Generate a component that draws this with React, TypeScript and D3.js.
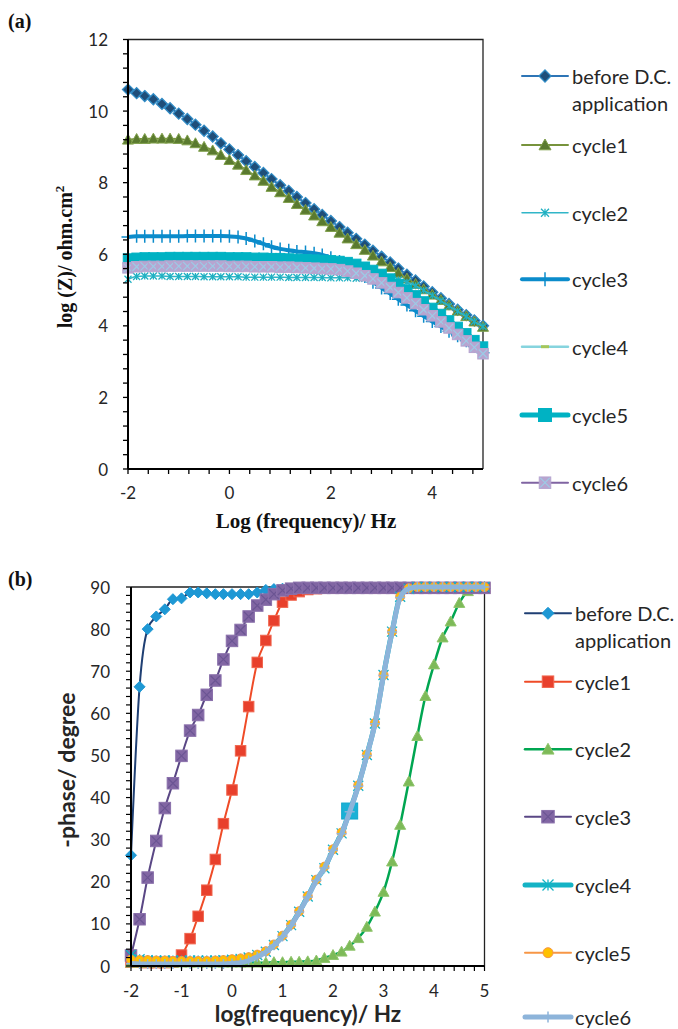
import React from 'react';
import * as d3 from 'd3';

// ---------- DATA ----------
const LOG_F = [-2, -1.83, -1.67, -1.5, -1.33, -1.17, -1, -0.83, -0.67, -0.5, -0.33, -0.17, 0, 0.17, 0.33, 0.5, 0.67, 0.83, 1, 1.17, 1.33, 1.5, 1.67, 1.83, 2, 2.17, 2.33, 2.5, 2.67, 2.83, 3, 3.17, 3.33, 3.5, 3.67, 3.83, 4, 4.17, 4.33, 4.5, 4.67, 4.83, 5];

const LEGEND_LABELS = ['before D.C. application', 'cycle1', 'cycle2', 'cycle3', 'cycle4', 'cycle5', 'cycle6'];

// (a) log |Z|
const Z_BEFORE = [10.6, 10.5, 10.42, 10.33, 10.2, 10.08, 9.93, 9.78, 9.62, 9.45, 9.29, 9.1, 8.93, 8.77, 8.6, 8.44, 8.27, 8.1, 7.93, 7.77, 7.6, 7.43, 7.26, 7.1, 6.93, 6.76, 6.6, 6.43, 6.27, 6.1, 5.93, 5.77, 5.6, 5.43, 5.27, 5.1, 4.94, 4.77, 4.61, 4.45, 4.3, 4.15, 4.0];
const Z_CYCLE1 = [9.2, 9.22, 9.22, 9.23, 9.23, 9.23, 9.22, 9.18, 9.1, 9.0, 8.9, 8.77, 8.63, 8.5, 8.35, 8.2, 8.05, 7.88, 7.73, 7.57, 7.4, 7.24, 7.08, 6.92, 6.76, 6.6, 6.44, 6.28, 6.12, 5.96, 5.8, 5.64, 5.48, 5.32, 5.17, 5.02, 4.87, 4.72, 4.57, 4.42, 4.27, 4.12, 3.97];
const Z_CYCLE2 = [5.3, 5.38, 5.39, 5.39, 5.39, 5.38, 5.38, 5.38, 5.38, 5.37, 5.37, 5.37, 5.37, 5.37, 5.36, 5.36, 5.36, 5.36, 5.36, 5.35, 5.35, 5.35, 5.35, 5.35, 5.34, 5.34, 5.34, 5.33, 5.33, 5.32, 5.31, 5.3, 5.28, 5.22, 5.12, 4.99, 4.85, 4.7, 4.55, 4.41, 4.26, 4.12, 3.98];
const Z_CYCLE3 = [6.48, 6.5, 6.5, 6.5, 6.5, 6.5, 6.5, 6.51, 6.51, 6.51, 6.51, 6.51, 6.5, 6.48, 6.44, 6.37, 6.29, 6.21, 6.15, 6.11, 6.08, 6.06, 6.03, 5.98, 5.9, 5.8, 5.68, 5.54, 5.38, 5.22, 5.06, 4.9, 4.74, 4.58, 4.42, 4.27, 4.12, 3.98, 3.85, 3.72, 3.58, 3.42, 3.25];
const Z_CYCLE4 = [5.72, 5.74, 5.74, 5.75, 5.75, 5.75, 5.75, 5.75, 5.75, 5.75, 5.75, 5.75, 5.75, 5.75, 5.74, 5.74, 5.74, 5.73, 5.73, 5.73, 5.72, 5.72, 5.71, 5.7, 5.69, 5.67, 5.64, 5.59, 5.52, 5.43, 5.32, 5.19, 5.05, 4.9, 4.74, 4.57, 4.4, 4.23, 4.05, 3.87, 3.69, 3.5, 3.32];
const Z_CYCLE5 = [5.88, 5.9, 5.91, 5.91, 5.91, 5.92, 5.92, 5.92, 5.92, 5.92, 5.92, 5.92, 5.91, 5.91, 5.91, 5.9, 5.9, 5.89, 5.89, 5.88, 5.87, 5.86, 5.85, 5.84, 5.83, 5.81, 5.78, 5.73, 5.65, 5.56, 5.45, 5.32, 5.17, 5.01, 4.85, 4.68, 4.5, 4.33, 4.15, 3.97, 3.79, 3.6, 3.42];
const Z_CYCLE6 = [5.62, 5.65, 5.66, 5.66, 5.66, 5.67, 5.67, 5.67, 5.67, 5.67, 5.67, 5.67, 5.66, 5.66, 5.66, 5.65, 5.65, 5.65, 5.64, 5.64, 5.63, 5.62, 5.61, 5.6, 5.59, 5.57, 5.53, 5.47, 5.4, 5.31, 5.2, 5.07, 4.93, 4.78, 4.62, 4.45, 4.28, 4.11, 3.94, 3.76, 3.58, 3.4, 3.22];

// (b) -phase
const PH_BEFORE = [26.3, 66.3, 80, 83, 84.7, 87.1, 87.3, 88.7, 88.7, 88.5, 88.3, 88.3, 88.3, 88.3, 88.3, 88.7, 89.3, 89.5, 89.6, 89.6, 89.6, 89.6, 89.7, 89.7, 89.7, 89.7, 89.7, 89.7, 89.7, 89.7, 89.7, 89.7, 89.7, 89.7, 89.7, 89.7, 89.7, 89.7, 89.7, 89.7, 89.7, 89.7, 89.7];
const PH_CYCLE1 = [0.9, 0.9, 0.8, 0.8, 0.8, 0.9, 2.6, 6.5, 11.8, 18, 25.3, 33.8, 41.8, 51.1, 61.6, 72.1, 77.3, 82, 86.4, 88.1, 88.9, 89.4, 89.6, 89.7, 89.7, 89.7, 89.7, 89.7, 89.7, 89.7, 89.7, 89.7, 89.7, 89.7, 89.7, 89.7, 89.7, 89.7, 89.7, 89.7, 89.7, 89.7, 89.7];
const PH_CYCLE2 = [0.8, 0.8, 0.8, 0.8, 0.8, 0.8, 0.8, 0.8, 0.8, 0.8, 0.8, 0.8, 0.8, 0.8, 0.8, 0.8, 0.8, 0.9, 0.9, 1.0, 1.0, 1.1, 1.3, 1.9, 2.6, 3.4, 4.8, 6.6, 9.3, 12.9, 17.6, 24.8, 33.5, 43.8, 54.6, 64.1, 71.6, 78, 81.8, 86.2, 89, 89.8, 90];
const PH_CYCLE3 = [2.5, 11.1, 21, 29.7, 37.5, 43.4, 49.9, 55.9, 59.6, 64.4, 67.8, 72.8, 77.2, 79.8, 83, 85.6, 87, 88.3, 89.2, 89.6, 89.8, 89.8, 89.8, 89.8, 89.8, 89.8, 89.8, 89.8, 89.8, 89.8, 89.8, 89.8, 89.8, 89.8, 89.8, 89.8, 89.8, 89.8, 89.8, 89.8, 89.8, 89.8, 89.8];
const PH_CYCLE4 = [2.6, 1.6, 1.4, 1.3, 1.3, 1.3, 1.3, 1.3, 1.3, 1.3, 1.3, 1.4, 1.5, 1.7, 2.0, 2.6, 3.4, 5.0, 7.1, 9.7, 12.9, 16.5, 20.4, 23.2, 27.6, 31.5, 36.7, 42.8, 50.1, 57.6, 69.1, 79.4, 87.7, 89.6, 90, 90, 90, 90, 90, 90, 90, 90, 90];
const PH_CYCLE5 = [1.5, 1.4, 1.4, 1.3, 1.3, 1.2, 1.2, 1.2, 1.2, 1.2, 1.3, 1.4, 1.6, 1.8, 2.1, 2.7, 3.5, 5.1, 7.2, 9.8, 13, 16.6, 20.5, 23.6, 27.7, 31.7, 36.8, 42.9, 50.2, 57.7, 69.1, 79.4, 87.7, 89.7, 90, 90, 90, 90, 90, 90, 90, 90, 90];
const PH_CYCLE6 = [0.6, 0.5, 0.5, 0.5, 0.5, 0.5, 0.5, 0.5, 0.5, 0.5, 0.5, 0.5, 0.6, 0.8, 1.3, 2.2, 3.3, 4.9, 7.0, 9.6, 12.8, 16.4, 20.3, 23.3, 27.5, 31.4, 36.6, 42.7, 50, 57.5, 69, 79.3, 87.5, 89.6, 90, 90, 90, 90, 90, 90, 90, 90, 90];
const PH_CYCLE5_HIGHLIGHT = 26; // index of the single highlighted point

const A_Y_TICKS = [0, 2, 4, 6, 8, 10, 12];
const A_X_TICKS = [-2, 0, 2, 4];
const B_Y_TICKS = [0, 10, 20, 30, 40, 50, 60, 70, 80, 90];
const B_X_TICKS = [-2, -1, 0, 1, 2, 3, 4, 5];

// ---------- STYLES ----------
type MarkerSpec = { shape: string; size: number; fill?: string; stroke?: string; sw?: number; inner?: string };
type SeriesSpec = { values: number[]; color: string; width: number; marker: MarkerSpec; legendMarker?: MarkerSpec };

const SANS = "Lato, 'Open Sans', sans-serif";
const SERIF = "'Liberation Serif', 'Times New Roman', serif";
const TXT = '#262626';

function Marker({ m, x, y }: { m: MarkerSpec; x: number; y: number }) {
  const s = m.size / 2;
  const sw = m.sw ?? 1;
  switch (m.shape) {
    case 'diamond':
      return <path d={`M${x},${y - s}L${x + s},${y}L${x},${y + s}L${x - s},${y}Z`} fill={m.fill} stroke={m.stroke} strokeWidth={sw} />;
    case 'triangle':
      return <path d={`M${x},${y - s}L${x + s},${y + s * 0.8}L${x - s},${y + s * 0.8}Z`} fill={m.fill} stroke={m.stroke} strokeWidth={sw} />;
    case 'square':
      return <rect x={x - s} y={y - s} width={2 * s} height={2 * s} fill={m.fill} stroke={m.stroke} strokeWidth={sw} />;
    case 'squareX':
      return (
        <g>
          <rect x={x - s} y={y - s} width={2 * s} height={2 * s} fill={m.fill} stroke={m.stroke} strokeWidth={sw} />
          <path d={`M${x - s + 1},${y - s + 1}L${x + s - 1},${y + s - 1}M${x + s - 1},${y - s + 1}L${x - s + 1},${y + s - 1}`} stroke={m.inner} strokeWidth={1.2} />
        </g>
      );
    case 'asterisk':
      return <path d={`M${x - s},${y - s}L${x + s},${y + s}M${x + s},${y - s}L${x - s},${y + s}M${x},${y - s}L${x},${y + s}`} stroke={m.stroke} strokeWidth={sw} fill="none" />;
    case 'plus':
      return <path d={`M${x - s},${y}L${x + s},${y}M${x},${y - s}L${x},${y + s}`} stroke={m.stroke} strokeWidth={sw} fill="none" />;
    case 'vtick':
      return <path d={`M${x},${y - s}L${x},${y + s}`} stroke={m.stroke} strokeWidth={sw} fill="none" />;
    case 'dash':
      return <path d={`M${x - s},${y}L${x + s},${y}`} stroke={m.stroke} strokeWidth={sw} fill="none" />;
    case 'circle':
      return <circle cx={x} cy={y} r={s} fill={m.fill} stroke={m.stroke} strokeWidth={sw} />;
    default:
      return null;
  }
}

const SERIES_A: SeriesSpec[] = [
  { values: Z_BEFORE, color: '#2e75b6', width: 2, marker: { shape: 'diamond', size: 11, fill: '#1f4e79', stroke: '#2f8ac4', sw: 1.3 } },
  { values: Z_CYCLE1, color: '#77933c', width: 2, marker: { shape: 'triangle', size: 11, fill: '#5a7a2f', stroke: '#80a04b', sw: 1 } },
  { values: Z_CYCLE2, color: '#31b6c8', width: 1.5, marker: { shape: 'asterisk', size: 7, stroke: '#1fb0c2', sw: 1.3 } },
  { values: Z_CYCLE3, color: '#0b8ccb', width: 4, marker: { shape: 'plus', size: 13, stroke: '#0b8ccb', sw: 1.5 }, legendMarker: { shape: 'vtick', size: 14, stroke: '#0b8ccb', sw: 1.5 } },
  { values: Z_CYCLE4, color: '#86d4de', width: 2.5, marker: { shape: 'dash', size: 7, stroke: '#a5c75a', sw: 3 } },
  { values: Z_CYCLE5, color: '#00b2c3', width: 5, marker: { shape: 'square', size: 9.5, fill: '#00b2c3', stroke: '#00b2c3', sw: 1 }, legendMarker: { shape: 'square', size: 13, fill: '#00b2c3', stroke: '#00b2c3', sw: 1 } },
  { values: Z_CYCLE6, color: '#8064a2', width: 2, marker: { shape: 'squareX', size: 10.5, fill: '#b7a5d0', stroke: '#b7a5d0', sw: 1, inner: '#9ccbe6' } },
];

const SERIES_B: SeriesSpec[] = [
  { values: PH_BEFORE, color: '#1f3f73', width: 2, marker: { shape: 'diamond', size: 11, fill: '#1e98d4', stroke: '#1e98d4', sw: 1 } },
  { values: PH_CYCLE1, color: '#ef4b27', width: 2, marker: { shape: 'square', size: 10.5, fill: '#e8402c', stroke: '#f0664f', sw: 1 } },
  { values: PH_CYCLE2, color: '#00a651', width: 2.5, marker: { shape: 'triangle', size: 11, fill: '#7dba58', stroke: '#8fc46b', sw: 1 } },
  { values: PH_CYCLE3, color: '#5a4785', width: 2, marker: { shape: 'squareX', size: 11.5, fill: '#8166a3', stroke: '#8a70ab', sw: 1, inner: '#6b5593' } },
  { values: PH_CYCLE4, color: '#14b3c5', width: 5, marker: { shape: 'asterisk', size: 10, stroke: '#14b3c5', sw: 1.3 } },
  { values: PH_CYCLE5, color: '#f79646', width: 2, marker: { shape: 'circle', size: 9, fill: '#ffc000', stroke: '#f79646', sw: 1 } },
  { values: PH_CYCLE6, color: '#8db4da', width: 5, marker: { shape: 'plus', size: 10, stroke: '#8db4da', sw: 1.5 } },
];

function Legend({ series, x0, rows }: { series: SeriesSpec[]; x0: number; rows: number[] }) {
  return (
    <g>
      {series.map((s, i) => {
        const y = rows[i];
        const label = LEGEND_LABELS[i];
        const lm = s.legendMarker ?? { ...s.marker, size: s.marker.size + 1 };
        return (
          <g key={i}>
            <line x1={x0} x2={x0 + 46} y1={y} y2={y} stroke={s.color} strokeWidth={s.width} strokeLinecap="round" />
            <Marker m={lm} x={x0 + 23} y={y} />
            {i === 0 ? (
              <text x={x0 + 50} y={y} fontFamily={SANS} fontSize={20} fill={TXT} dominantBaseline="central">
                <tspan x={x0 + 50} dy={0}>before D.C.</tspan>
                <tspan x={x0 + 50} dy={26.5}>application</tspan>
              </text>
            ) : (
              <text x={x0 + 50} y={y} fontFamily={SANS} fontSize={20} fill={TXT} dominantBaseline="central">{label}</text>
            )}
          </g>
        );
      })}
    </g>
  );
}

export default function App() {
  // ----- chart (a)
  const xA = d3.scaleLinear().domain([-2, 5]).range([128, 483]);
  const yA = d3.scaleLinear().domain([0, 12]).range([469, 39.5]);
  // ----- chart (b)
  const xB = d3.scaleLinear().domain([-2, 5]).range([131, 484.5]);
  const yB = d3.scaleLinear().domain([0, 90]).range([966, 587]);

  const lineGen = (xs: any, ys: any) =>
    d3.line<number>().x((_, i) => xs(LOG_F[i])).y((v) => ys(v)).curve(d3.curveMonotoneX);

  const aMinorY = d3.range(0, 12.001, 0.4);
  const aMinorX = d3.range(-2, 5.0001, 0.4);
  const bMinorY = d3.range(0, 90.001, 2);
  const bMinorX = d3.range(-2, 5.0001, 0.2);

  const legendRowsA = [76, 145, 212.7, 279.3, 346.7, 415, 482.7];
  const legendRowsB = [613.3, 681.7, 749.3, 816.7, 885, 952.7, 1017];

  return (
    <svg width={678} height={1029} style={{ position: 'absolute', left: 0, top: 0, background: '#fff' }}>
      <rect x={0} y={0} width={678} height={1029} fill="#fff" />
      {/* ===== (a) ===== */}
      <text x={8} y={28} fontFamily={SERIF} fontWeight="bold" fontSize={20} fill="#111">(a)</text>
      <path d={`M${xA(-2)},${yA(12)}H${xA(5)}V${yA(0)}`} fill="none" stroke="#222" strokeWidth={1.3} />
      <g>
        {SERIES_A.map((s, si) => (
          <g key={si}>
            <path d={lineGen(xA, yA)(s.values) || ''} fill="none" stroke={s.color} strokeWidth={s.width} />
            {s.values.map((v, i) => (
              <Marker key={i} m={s.marker} x={xA(LOG_F[i])} y={yA(v)} />
            ))}
          </g>
        ))}
      </g>
      <line x1={xA(-2)} x2={xA(-2)} y1={yA(0)} y2={yA(12)} stroke="#000" strokeWidth={2} />
      <line x1={xA(-2)} x2={xA(5)} y1={yA(0)} y2={yA(0)} stroke="#000" strokeWidth={2} />
      {aMinorY.map((t, i) => (
        <line key={'ay' + i} x1={xA(-2) - 5} x2={xA(-2)} y1={yA(t)} y2={yA(t)} stroke="#000" strokeWidth={1.3} />
      ))}
      {aMinorX.map((t, i) => (
        <line key={'ax' + i} x1={xA(t)} x2={xA(t)} y1={yA(0)} y2={yA(0) + 5} stroke="#000" strokeWidth={1.3} />
      ))}
      {A_Y_TICKS.map((t) => (
        <text key={'ayl' + t} x={108} y={yA(t)} textAnchor="end" dominantBaseline="central" fontFamily={SANS} fontSize={17} fill={TXT}>{t}</text>
      ))}
      {A_X_TICKS.map((t) => (
        <text key={'axl' + t} x={xA(t)} y={492} textAnchor="middle" dominantBaseline="central" fontFamily={SANS} fontSize={17} fill={TXT}>{t}</text>
      ))}
      <text x={306} y={528} textAnchor="middle" fontFamily={SERIF} fontWeight="bold" fontSize={21} fill="#111">Log (frequency)/ Hz</text>
      <text transform="translate(72,257) rotate(-90)" textAnchor="middle" fontFamily={SERIF} fontWeight="bold" fontSize={20} fill="#111">
        log (Z)/ ohm.cm<tspan fontSize={13} dy={-8}>2</tspan>
      </text>
      <Legend series={SERIES_A} x0={522} rows={legendRowsA} />

      {/* ===== (b) ===== */}
      <text x={8} y={586} fontFamily={SERIF} fontWeight="bold" fontSize={20} fill="#111">(b)</text>
      <path d={`M${xB(-2)},${yB(90)}H${xB(5)}V${yB(0)}`} fill="none" stroke="#222" strokeWidth={1.3} />
      <g>
        {SERIES_B.map((s, si) => (
          <g key={si}>
            <path d={lineGen(xB, yB)(s.values) || ''} fill="none" stroke={s.color} strokeWidth={s.width} />
            {s.values.map((v, i) => (
              <Marker key={i} m={s.marker} x={xB(LOG_F[i])} y={yB(v)} />
            ))}
            {si === 5 && (
              <rect x={xB(LOG_F[PH_CYCLE5_HIGHLIGHT]) - 8} y={yB(PH_CYCLE5[PH_CYCLE5_HIGHLIGHT]) - 8} width={16} height={16} fill="#1bb1d6" stroke="#12a7cc" />
            )}
          </g>
        ))}
      </g>
      <line x1={xB(-2)} x2={xB(-2)} y1={yB(0)} y2={yB(90)} stroke="#000" strokeWidth={2} />
      <line x1={xB(-2)} x2={xB(5)} y1={yB(0)} y2={yB(0)} stroke="#000" strokeWidth={2} />
      {bMinorY.map((t, i) => (
        <line key={'by' + i} x1={xB(-2) - 5} x2={xB(-2)} y1={yB(t)} y2={yB(t)} stroke="#000" strokeWidth={1.2} />
      ))}
      {bMinorX.map((t, i) => (
        <line key={'bx' + i} x1={xB(t)} x2={xB(t)} y1={yB(0)} y2={yB(0) + 5} stroke="#000" strokeWidth={1.2} />
      ))}
      {B_Y_TICKS.map((t) => (
        <text key={'byl' + t} x={110} y={yB(t)} textAnchor="end" dominantBaseline="central" fontFamily={SANS} fontSize={17} fill={TXT}>{t}</text>
      ))}
      {B_X_TICKS.map((t) => (
        <text key={'bxl' + t} x={xB(t)} y={990} textAnchor="middle" dominantBaseline="central" fontFamily={SANS} fontSize={17} fill={TXT}>{t}</text>
      ))}
      <text x={308} y={1022} textAnchor="middle" fontFamily={SANS} fontWeight="bold" fontSize={22.5} fill={TXT}>log(frequency)/ Hz</text>
      <text transform="translate(75,770) rotate(-90)" textAnchor="middle" fontFamily={SANS} fontWeight="bold" fontSize={23} fill={TXT}>-phase/ degree</text>
      <Legend series={SERIES_B} x0={525} rows={legendRowsB} />
    </svg>
  );
}
